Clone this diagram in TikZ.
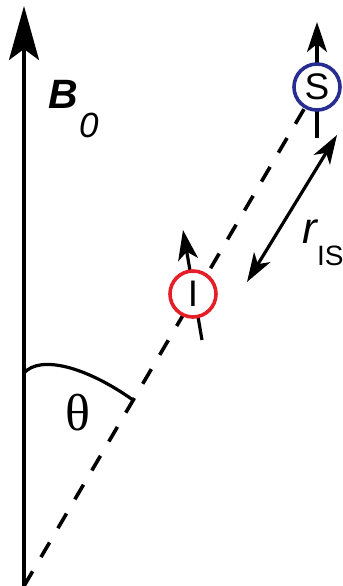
\documentclass[tikz,border=0pt]{standalone}
\usepackage{fontspec}
\setmainfont{Liberation Sans}
\newfontfamily\greekserif{Liberation Serif}
\usetikzlibrary{arrows.meta}
\definecolor{ringred}{RGB}{230,30,40}
\definecolor{ringblue}{RGB}{40,45,145}
\tikzset{
  ax/.style={-{Stealth[length=27pt,width=15pt,inset=5.5pt]}, line width=1.6pt},
  spn/.style={-{Stealth[length=15pt,width=10pt,inset=4pt]}, line width=1.6pt},
  dimn/.style={{Stealth[length=14.5pt,width=9.5pt,inset=4pt]}-{Stealth[length=14.5pt,width=9.5pt,inset=4pt]}, line width=1.6pt},
  vec/.style={line width=1.8pt, dash pattern=on 8.5pt off 8.25pt},
  ring/.style={circle, draw, fill=white, line width=1.8pt, minimum size=23pt, inner sep=0pt, font=\fontsize{18.5}{18.5}\selectfont},
}

\begin{document}
\begin{tikzpicture}[x=0.5pt,y=-0.5pt]
  \useasboundingbox (0,0) rectangle (343,586);
  % --- static field ---
  \coordinate (O) at (24,586);
  \coordinate (Btip) at (24,6);
  \draw[ax] (O) -- (Btip);
  \node[anchor=base west, inner sep=0pt] (Blab) at (48,108)
    {{\fontsize{20.5}{21}\selectfont\bfseries\itshape B}\hspace{0.5pt}{\fontsize{17.5}{18}\selectfont\itshape\raisebox{-14.5pt}{0}}};
  % --- internuclear vector and angle ---
  \coordinate (Ic) at (193,294);
  \coordinate (Sc) at (317,87);
  \draw[vec] (O) -- (Sc);
  \draw[line width=1.6pt] (24,373) .. controls (40,355) and (85,366) .. (133,400);
  \node[font=\greekserif\fontsize{26}{26}\selectfont, inner sep=0pt] (th) at (77.5,412.5) {θ};
  % --- spins ---
  \coordinate (Ibot) at (202,340);
  \coordinate (Itop) at (183,230);
  \draw[spn] (Ibot) -- (Itop);
  \coordinate (Sbot) at (317,138);
  \coordinate (Stop) at (317,22);
  \draw[spn] (Sbot) -- (Stop);
  \node[ring, draw=ringred] (I) at (Ic) {I};
  \node[ring, draw=ringblue] (S) at (Sc) {S};
  % --- distance ---
  \coordinate (r1) at (247,282);
  \coordinate (r2) at (337,135);
  \draw[dimn] (r1) -- (r2);
  \node[anchor=base west, inner sep=0pt] (rlab) at (302,243)
    {{\fontsize{22}{22}\selectfont\itshape r}{\fontsize{14}{14}\selectfont\raisebox{-11pt}{IS}}};
\end{tikzpicture}
\end{document}
